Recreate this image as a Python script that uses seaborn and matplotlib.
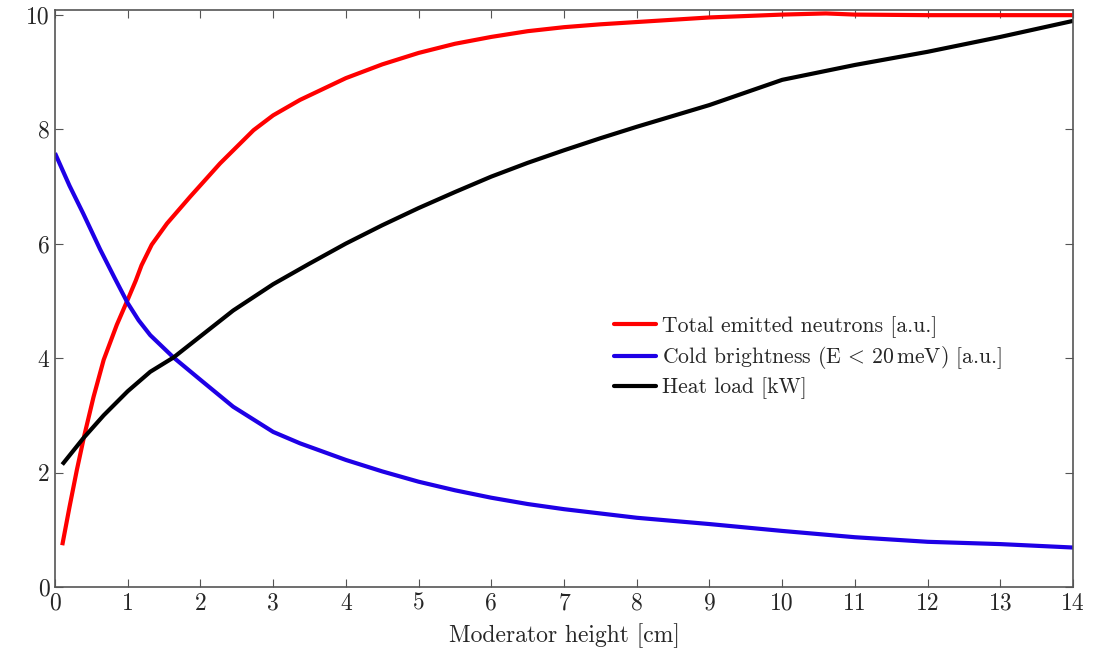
import numpy as np
import pandas as pd
import matplotlib
matplotlib.use("Agg")
import matplotlib.pyplot as plt
import seaborn as sns

# Total emitted neutrons [a.u.]
neutrons_x = [0.1, 0.2, 0.3, 0.4, 0.53, 0.67, 0.85, 1.0, 1.11, 1.19, 1.33, 1.54,
              1.86, 2.27, 2.73, 3.0, 3.37, 4.0, 4.5, 5.0, 5.5, 6.0, 6.5, 7.0,
              7.5, 8.0, 9.0, 10.0, 10.6, 11.0, 12.0, 13.0, 14.0]
neutrons_y = [0.73, 1.40, 2.04, 2.63, 3.32, 3.97, 4.58, 5.02, 5.35, 5.62, 5.98, 6.35,
              6.82, 7.40, 7.98, 8.24, 8.51, 8.89, 9.13, 9.33, 9.49, 9.61, 9.71, 9.78,
              9.83, 9.87, 9.95, 10.0, 10.02, 10.0, 9.99, 9.99, 9.99]

# Cold brightness (E < 20 meV) [a.u.]
cold_x = [0.0, 0.2, 0.39, 0.62, 0.82, 1.0, 1.15, 1.31, 1.63, 2.0, 2.45, 3.0,
          3.37, 4.0, 4.5, 5.0, 5.5, 6.0, 6.5, 7.0, 8.0, 9.0, 10.0, 11.0,
          12.0, 13.0, 14.0]
cold_y = [7.58, 7.01, 6.52, 5.90, 5.40, 4.96, 4.66, 4.40, 4.01, 3.62, 3.15, 2.71,
          2.51, 2.22, 2.02, 1.84, 1.69, 1.56, 1.45, 1.36, 1.21, 1.10, 0.98, 0.87,
          0.79, 0.75, 0.69]

# Heat load [kW]
heat_x = [0.1, 0.39, 0.67, 1.0, 1.31, 1.63, 2.0, 2.45, 3.0, 3.5, 4.0, 4.5,
          5.0, 5.5, 6.0, 6.5, 7.0, 7.5, 8.0, 8.5, 9.0, 9.5, 10.0, 11.0,
          12.0, 13.0, 14.0]
heat_y = [2.14, 2.60, 3.0, 3.42, 3.76, 4.01, 4.38, 4.83, 5.29, 5.65, 6.0, 6.32,
          6.62, 6.9, 7.17, 7.41, 7.63, 7.84, 8.04, 8.23, 8.42, 8.64, 8.86, 9.12,
          9.35, 9.61, 9.89]

labels = ["Total emitted neutrons [a.u.]",
          r"Cold brightness (E$\,<\,$20$\,$meV) [a.u.]",
          "Heat load [kW]"]
colors = ["#ff0000", "#1e00e6", "#000000"]

x_ticks = list(range(0, 15))
y_ticks = [0, 2, 4, 6, 8, 10]

frames = []
for lab, xs, ys in zip(labels, [neutrons_x, cold_x, heat_x],
                       [neutrons_y, cold_y, heat_y]):
    frames.append(pd.DataFrame({"x": xs, "y": ys, "series": lab}))
df = pd.concat(frames, ignore_index=True)

sns.set_theme(style="ticks")
plt.rcParams["font.family"] = "serif"
plt.rcParams["font.serif"] = ["cmr10", "DejaVu Serif"]
plt.rcParams["mathtext.fontset"] = "cm"
plt.rcParams["axes.formatter.use_mathtext"] = True

fig = plt.figure(figsize=(11.04, 6.54), dpi=100)
ax = fig.add_axes([0.0498, 0.1024, 0.9222, 0.8823])

sns.lineplot(data=df, x="x", y="y", hue="series", hue_order=labels,
             palette=dict(zip(labels, colors)), sort=False, estimator=None,
             linewidth=3.0, ax=ax, legend=False)
for ln in ax.get_lines():
    ln.set_solid_joinstyle("round")
    ln.set_solid_capstyle("butt")

ax.set_xlim(0, 14)
ax.set_ylim(0, 10.08)
ax.set_xticks(x_ticks)
ax.set_yticks(y_ticks)
ax.set_xticklabels([str(t) for t in x_ticks])
ax.set_yticklabels([str(t) for t in y_ticks])
ax.tick_params(direction="in", top=True, right=True, length=6, width=0.8,
               color="#555555", labelsize=17, pad=4)
for s in ax.spines.values():
    s.set_color("#555555")
    s.set_linewidth(1.2)
ax.set_xlabel("Moderator height [cm]", fontsize=17, labelpad=6)
ax.set_ylabel("")

handles = [plt.Line2D([], [], color=c, lw=3.0) for c in colors]
ax.legend(handles, labels, loc="upper left", bbox_to_anchor=(0.541, 0.485),
          frameon=False, fontsize=15.6, handlelength=1.9, handletextpad=0.3,
          labelspacing=0.3, borderaxespad=0)

fig.savefig("out.png", dpi=100)
